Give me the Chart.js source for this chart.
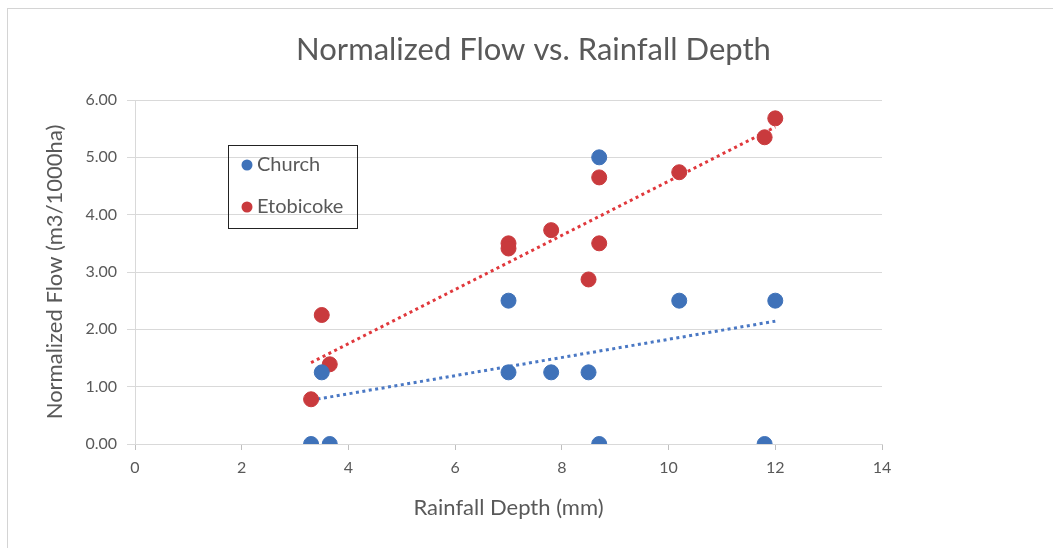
<!DOCTYPE html>
<html>
<head>
<meta charset="utf-8">
<script src="https://cdn.jsdelivr.net/npm/chart.js@4"></script>
<style>
  html, body { margin: 0; padding: 0; background: #fff; }
  #wrap { position: relative; width: 1053px; height: 548px; overflow: hidden; }
  #frame { position: absolute; left: 7px; top: 8px; width: 1060px; height: 560px; border: 1px solid #d4d4d4; }
  canvas { position: absolute; left: 0; top: 0; }
</style>
</head>
<body>
<div id="wrap">
  <div id="frame"></div>
  <canvas id="flowChart" width="1053" height="548"></canvas>
</div>
<script>
// rainfall depth (mm) and normalized flow (m3/1000ha)
const churchX = [3.3, 3.65, 8.7, 11.8, 3.5, 7.0, 7.8, 8.5, 7.0, 10.2, 12.0, 8.7];
const churchY = [0, 0, 0, 0, 1.25, 1.25, 1.25, 1.25, 2.5, 2.5, 2.5, 5.0];
const etobX = [3.3, 3.5, 3.65, 7.0, 7.0, 7.8, 8.5, 8.7, 8.7, 10.2, 11.8, 12.0];
const etobY = [0.78, 2.25, 1.39, 3.5, 3.41, 3.73, 2.87, 4.65, 3.5, 4.74, 5.35, 5.68];
const seriesNames = ['Church', 'Etobicoke'];
const xTicks = [0, 2, 4, 6, 8, 10, 12, 14];
const yTicks = [0, 1, 2, 3, 4, 5, 6];

const blue = '#3f72b9';
const red = '#c93a3d';
const fontFam = 'Lato, "Open Sans", sans-serif';

function toPoints(xs, ys) {
    return xs.map((x, i) => ({ x: x, y: ys[i] }));
}

// least squares trendline across the data's x range
function trend(xs, ys) {
    const n = xs.length;
    const mx = xs.reduce((a, b) => a + b, 0) / n;
    const my = ys.reduce((a, b) => a + b, 0) / n;
    let sxy = 0, sxx = 0;
    for (let i = 0; i < n; i++) {
        sxy += (xs[i] - mx) * (ys[i] - my);
        sxx += (xs[i] - mx) * (xs[i] - mx);
    }
    const m = sxy / sxx;
    const b = my - m * mx;
    const lo = Math.min(...xs), hi = Math.max(...xs);
    return [{ x: lo, y: m * lo + b }, { x: hi, y: m * hi + b }];
}

// boxed legend inside the plot, like the original
const boxLegend = {
    id: 'boxLegend',
    afterDraw(chart) {
        const ctx = chart.ctx;
        ctx.save();
        ctx.strokeStyle = '#222';
        ctx.lineWidth = 1;
        ctx.strokeRect(228.5, 145.5, 129, 83);
        ctx.font = '20px ' + fontFam;
        ctx.textBaseline = 'middle';
        seriesNames.forEach((name, i) => {
            const ds = chart.data.datasets[i];
            const y = 165 + i * 42;
            ctx.fillStyle = ds.backgroundColor;
            ctx.beginPath();
            ctx.arc(247, y, 5.5, 0, Math.PI * 2);
            ctx.fill();
            ctx.fillStyle = '#595959';
            ctx.fillText(name, 257, y);
        });
        ctx.restore();
    }
};

const ctx = document.getElementById('flowChart').getContext('2d');
new Chart(ctx, {
    type: 'scatter',
    data: {
        datasets: [
            {
                label: seriesNames[0],
                data: toPoints(churchX, churchY),
                backgroundColor: blue,
                borderColor: blue,
                pointRadius: 7.5,
                pointHoverRadius: 7.5,
                order: 1,
            },
            {
                label: seriesNames[1],
                data: toPoints(etobX, etobY),
                backgroundColor: red,
                borderColor: red,
                pointRadius: 7.5,
                pointHoverRadius: 7.5,
                order: 1,
            },
            {
                type: 'line',
                label: 'Church trend',
                data: trend(churchX, churchY),
                borderColor: '#4a78c4',
                borderWidth: 3,
                borderDash: [3, 3.5],
                pointRadius: 0,
                fill: false,
                order: 2,
            },
            {
                type: 'line',
                label: 'Etobicoke trend',
                data: trend(etobX, etobY),
                borderColor: '#e0383c',
                borderWidth: 3,
                borderDash: [3, 3.5],
                pointRadius: 0,
                fill: false,
                order: 2,
            },
        ],
    },
    options: {
        responsive: false,
        animation: false,
        layout: { padding: { left: 14, right: 0, top: 0, bottom: 0 } },
        plugins: {
            legend: { display: false },
            tooltip: { enabled: false },
            title: {
                display: true,
                text: 'Normalized Flow vs. Rainfall Depth',
                color: '#595959',
                font: { family: fontFam, size: 31, weight: 'normal', lineHeight: 1.2 },
                padding: { top: 31.4, bottom: 31.4 },
            },
        },
        scales: {
            x: {
                type: 'linear',
                min: 0,
                max: 14,
                afterFit(scale) { scale.height = 104; },
                afterBuildTicks(scale) { scale.ticks = xTicks.map(v => ({ value: v })); },
                grid: {
                    drawOnChartArea: false,
                    drawTicks: true,
                    tickLength: 6,
                    color: '#bfbfbf',
                },
                border: { color: '#d9d9d9' },
                ticks: {
                    color: '#595959',
                    padding: 8,
                    font: { family: fontFam, size: 16 },
                },
                title: {
                    display: true,
                    text: 'Rainfall Depth (mm)',
                    color: '#595959',
                    font: { family: fontFam, size: 22 },
                    padding: { bottom: 26.8 },
                },
            },
            y: {
                type: 'linear',
                min: 0,
                max: 6,
                afterFit(scale) { scale.width = 121; },
                afterBuildTicks(scale) { scale.ticks = yTicks.map(v => ({ value: v })); },
                grid: {
                    color: '#d9d9d9',
                    drawTicks: true,
                    tickLength: 8,
                },
                border: { color: '#d9d9d9' },
                ticks: {
                    color: '#595959',
                    padding: 10,
                    font: { family: fontFam, size: 16 },
                    callback: v => v.toFixed(2),
                },
                title: {
                    display: true,
                    text: 'Normalized Flow (m3/1000ha)',
                    color: '#595959',
                    font: { family: fontFam, size: 22 },
                    padding: { top: 27.8 },
                },
            },
            // empty right-hand band so the plot stops where the original does
            yRight: {
                type: 'linear',
                position: 'right',
                min: 0,
                max: 6,
                afterFit(scale) { scale.width = 171; },
                grid: { display: false, drawTicks: false },
                border: { display: false },
                ticks: { display: false },
            },
        },
    },
    plugins: [boxLegend],
});
</script>
</body>
</html>
